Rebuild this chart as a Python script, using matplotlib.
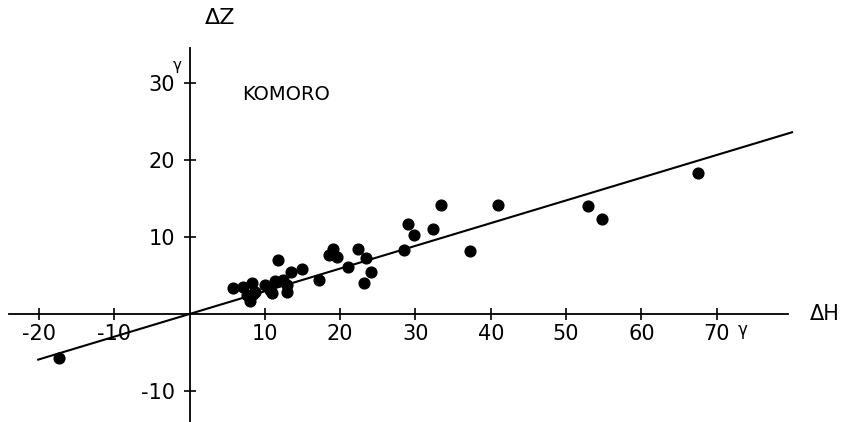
import numpy as np
import matplotlib.pyplot as plt

# Komoro: dZ vs dH (gamma)
dH = [-17.4, 5.8, 7.06, 8.26, 7.6, 8.47, 8.03, 8.7, 10.0, 10.7, 10.9,
      11.35, 11.8, 12.46, 12.9, 12.9, 13.48, 14.9, 17.24, 18.57, 19.1,
      19.55, 21.0, 22.4, 23.4, 24.06, 23.1, 28.53, 28.98, 29.85, 32.34,
      33.36, 37.29, 40.93, 52.92, 54.82, 67.49]
dZ = [-5.75, 3.4, 3.55, 3.98, 2.47, 2.6, 1.73, 2.9, 3.77, 3.1, 2.7,
      4.3, 7.0, 4.42, 3.77, 2.9, 5.5, 5.84, 4.42, 7.66, 8.44,
      7.36, 6.06, 8.44, 7.23, 5.5, 4.07, 8.31, 11.73, 10.3, 11.08,
      14.12, 8.22, 14.12, 14.03, 12.34, 18.35]
slope = 0.295
line_x = [-20.1, 80.0]

xticks = [-20, -10, 10, 20, 30, 40, 50, 60, 70]
yticks = [-10, 10, 20, 30]

fig = plt.figure(figsize=(8.5, 4.22), dpi=100)
ax = fig.add_axes([0, 0, 1, 1])
ax.set_xlim(-25.17, 87.7)
ax.set_ylim(-14.03, 40.78)

for s in ['top', 'right']:
    ax.spines[s].set_visible(False)
ax.spines['left'].set_position(('data', 0))
ax.spines['bottom'].set_position(('data', 0))
ax.spines['left'].set_bounds(-14, 34.5)
ax.spines['bottom'].set_bounds(-24, 79.5)
for s in ['left', 'bottom']:
    ax.spines[s].set_linewidth(1.3)

ax.set_xticks(xticks)
ax.set_yticks(yticks)
ax.set_xticklabels([str(v) for v in xticks])
ax.set_yticklabels([str(v) for v in yticks])
ax.tick_params(direction='inout', length=9, width=1.2, labelsize=15)
ax.tick_params(axis='x', pad=3)
ax.tick_params(axis='y', pad=6)

ax.plot(line_x, [slope * v for v in line_x], color='black', lw=1.5)
ax.scatter(dH, dZ, s=60, color='black', zorder=3)

ax.text(2.0, 38.5, 'ΔZ', fontsize=16, ha='left', va='center')
ax.text(82.3, 0.0, 'ΔH', fontsize=15, ha='left', va='center')
ax.text(7.0, 28.5, 'KOMORO', fontsize=14, ha='left', va='center')
ax.text(-1.6, 32.3, 'γ', fontsize=11, ha='center', va='center')
ax.text(73.5, -2.1, 'γ', fontsize=12, ha='center', va='center')

fig.savefig('out.png', dpi=100)
